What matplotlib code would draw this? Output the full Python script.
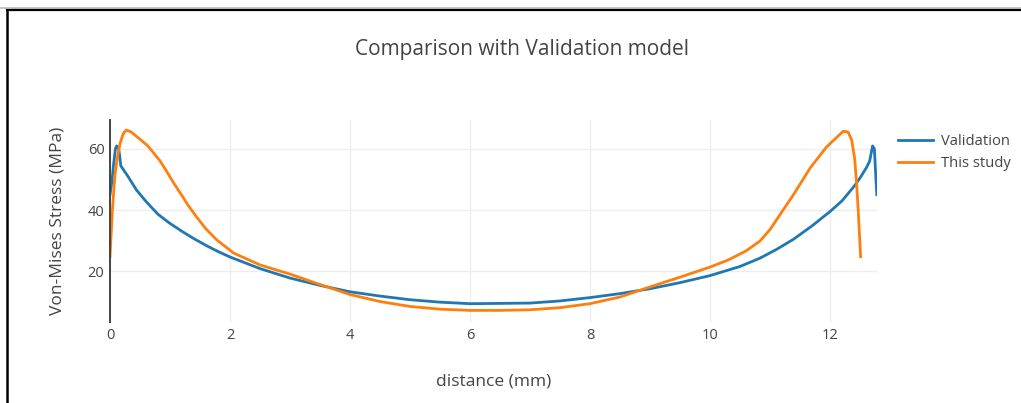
import matplotlib.pyplot as plt
from matplotlib.lines import Line2D

# Von-Mises stress along the path, validation model
val_x = [0, 0.03, 0.06, 0.09, 0.11, 0.14, 0.16, 0.18, 0.3, 0.44, 0.6, 0.8, 1.0, 1.2, 1.4,
         1.6, 1.8, 2.0, 2.5, 3.0, 3.5, 4.0, 4.5, 5.0, 5.5, 6.0, 6.5, 7.0, 7.5, 8.0, 8.5,
         9.0, 9.5, 10.0, 10.5, 10.83, 11.1, 11.39, 11.7, 12.0, 12.2, 12.39, 12.5, 12.61,
         12.66, 12.71, 12.74, 12.76, 12.78]
val_y = [45, 49, 55, 60, 61, 60.5, 58, 54.5, 51, 46.6, 42.8, 38.6, 35.6, 33, 30.6,
         28.4, 26.4, 24.6, 20.8, 17.7, 15.3, 13.2, 11.8, 10.6, 9.8, 9.3, 9.4, 9.5, 10.2, 11.3, 12.6,
         14.2, 16.2, 18.5, 21.5, 24.2, 27, 30.4, 34.8, 39.5, 43, 47.5, 50.5, 54,
         56, 61, 60, 52, 45]

# Von-Mises stress along the path, this study
study_x = [0, 0.04, 0.08, 0.12, 0.17, 0.22, 0.27, 0.35, 0.5, 0.62, 0.72, 0.83, 0.94, 1.05,
           1.17, 1.3, 1.44, 1.6, 1.78, 2.06, 2.5, 3.0, 3.5, 4.0, 4.5, 5.0, 5.5, 6.0, 6.5,
           7.0, 7.5, 8.0, 8.5, 9.0, 9.5, 10.0, 10.3, 10.6, 10.83, 11.0, 11.17, 11.39, 11.67,
           11.94, 12.1, 12.22, 12.3, 12.36, 12.41, 12.44, 12.47, 12.51]
study_y = [24.7, 40, 51, 57, 62, 65, 66.2, 65.6, 63.2, 61.2, 58.9, 56.2, 52.8, 49.2,
           45.6, 41.6, 37.8, 33.8, 30.2, 25.9, 22, 19, 15.6, 12.3, 10, 8.4, 7.5, 7.1, 7.1,
           7.3, 8, 9.3, 11.5, 14.8, 18, 21.3, 23.6, 26.6, 29.8, 33.6, 38.6, 45, 53.8,
           60.6, 63.6, 65.8, 65.6, 63, 57, 49.5, 40, 24.7]

x_ticks = [0, 2, 4, 6, 8, 10, 12]
y_ticks = [20, 40, 60]

plt.rcParams['font.family'] = ['Open Sans', 'DejaVu Sans']
txt = '#444444'

fig = plt.figure(figsize=(10.21, 4.03), dpi=100)
W, H = 1021, 403
ax = fig.add_axes([110 / W, 1 - 322 / H, (877 - 110) / W, (322 - 120) / H])

ax.plot(val_x, val_y, color='#1f77b4', lw=2.0, label='Validation', solid_joinstyle='round')
ax.plot(study_x, study_y, color='#ff7f0e', lw=2.0, label='This study', solid_joinstyle='round')

ax.set_xlim(0, 12.783)
ax.set_ylim(3.3, 69.5)
ax.set_xticks(x_ticks)
ax.set_yticks(y_ticks)
ax.grid(True, color='#eeeeee', lw=1)
ax.set_axisbelow(True)
for s in ['top', 'right', 'bottom']:
    ax.spines[s].set_visible(False)
ax.spines['left'].set_color('#444444')
ax.spines['left'].set_linewidth(1.4)
ax.tick_params(length=0, labelsize=10.5, labelcolor=txt, pad=4)

ax.set_xlabel('distance (mm)', fontsize=12.5, color=txt, labelpad=22)
ax.set_ylabel('Von-Mises Stress (MPa)', fontsize=12.5, color=txt, labelpad=16)
fig.text(522 / W, 1 - 49 / H, 'Comparison with Validation model', ha='center', va='center',
         fontsize=15, color=txt)

leg = ax.legend(loc='upper left', bbox_to_anchor=(892 / W, 1 - 128 / H), bbox_transform=fig.transFigure,
                frameon=False, fontsize=10.6, handlelength=2.4, handletextpad=0.55, labelspacing=0.5,
                borderaxespad=0)
for t in leg.get_texts():
    t.set_color(txt)

# frame lines around the figure
fig.add_artist(Line2D([0, 1], [1 - 8 / H, 1 - 8 / H], transform=fig.transFigure, color='#bbbbbb', lw=1.2))
fig.add_artist(Line2D([7 / W, 1], [1 - 10 / H, 1 - 10 / H], transform=fig.transFigure, color='black', lw=1.6))
fig.add_artist(Line2D([7 / W, 7 / W], [0, 1 - 10 / H], transform=fig.transFigure, color='black', lw=1.8))

fig.savefig('out.png', dpi=100)
